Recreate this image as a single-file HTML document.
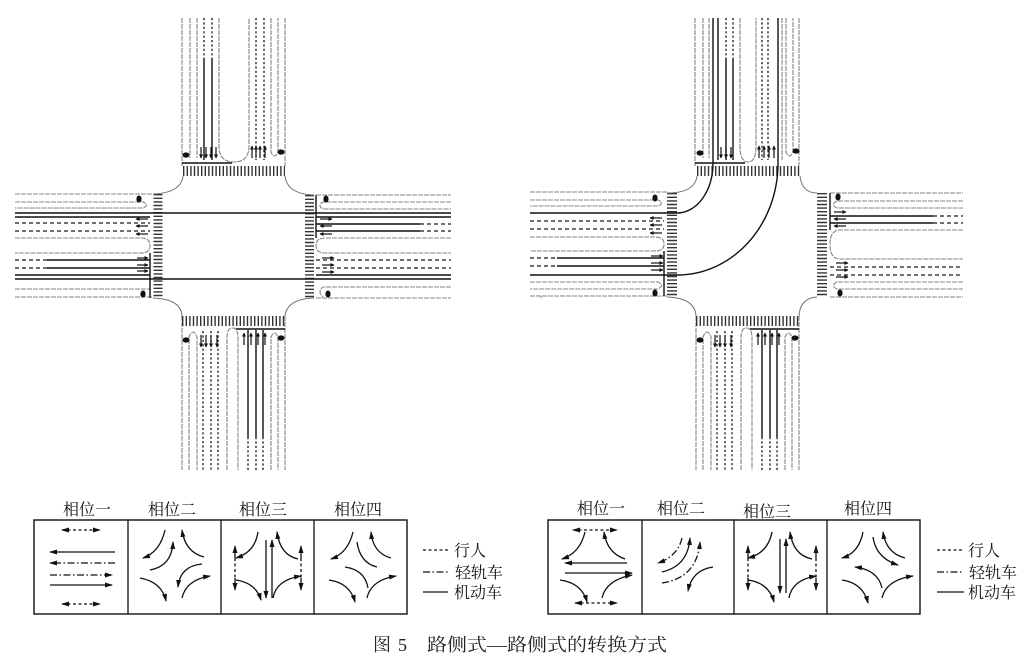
<!DOCTYPE html>
<html><head><meta charset="utf-8">
<style>
html,body{margin:0;padding:0;background:#fff;}
svg{display:block}
.g{stroke:#858585;stroke-width:1.1;fill:none;stroke-dasharray:5 1}
.e{stroke:#707070;stroke-width:1;fill:none}
.d{stroke:#1a1a1a;stroke-width:1.3;fill:none;stroke-dasharray:2.2 2.2}
.dl{stroke:#1a1a1a;stroke-width:1.3;fill:none;stroke-dasharray:4 3}
.s{stroke:#111;stroke-width:1.4;fill:none}
.cw{stroke:#333;fill:none;stroke-dasharray:1.4 2.2}
.ar{stroke:#111;stroke-width:1.2;fill:none}
.ph{stroke:#111;stroke-width:1.3;fill:none}
.pd{stroke-dasharray:3 2.5}
.pdd{stroke-dasharray:7 2.5 1.5 2.5}
.lbl{font-family:"Liberation Serif","Noto Serif CJK SC",serif;font-size:16px;fill:#111}
.cap{font-family:"Liberation Serif","Noto Serif CJK SC",serif;font-size:18px;fill:#222}
</style></head><body>
<svg width="1026" height="658" viewBox="0 0 1026 658" xmlns="http://www.w3.org/2000/svg">
<defs>
<marker id="ah" markerWidth="8" markerHeight="6" refX="7" refY="3" orient="auto-start-reverse" markerUnits="userSpaceOnUse"><path d="M0 0.5L8 3L0 5.5z" fill="#111"/></marker>
<marker id="sa" markerWidth="4" markerHeight="4" refX="3.5" refY="2" orient="auto" markerUnits="userSpaceOnUse"><path d="M0 0L4 2L0 4z" fill="#111"/></marker>
</defs>

<!-- ================= LEFT INTERSECTION ================= -->
<path class="g" d="M182 18V166 M190 18V158 M197 18V158 M219 18V146Q219 162 234 162Q249 162 249 146V18 M271 18V152Q274.5 160 278 152V18 M285 18V166"/>
<path class="d" d="M204 18V58 M212 18V58 M256 18V160 M264 18V160"/>
<path class="s" d="M204 58V160 M212 58V160 M182 163H232"/>
<path class="cw" stroke-width="10" d="M183 171H285"/>
<path class="g" d="M15 194H153 M15 202H143Q150 205 143 208H15 M15 238H141Q150 238 150 245.5Q150 253 141 253H15 M15 289H150 M15 297H153"/>
<path class="dl" d="M15 223H150 M15 231H150 M15 260H47 M15 268H47"/>
<path class="s" d="M15 217H150 M47 260H150 M47 268H150 M15 275H150 M150 253V298"/>
<path class="cw" stroke-width="9" d="M158 194V298"/>
<path class="g" d="M316 195H451 M451 202H323Q317 205.5 323 209H451 M451 238H325Q316 238 316 245.5Q316 253 325 253H451 M451 287H323Q317 292 323 297 M316 298H451"/>
<path class="s" d="M316 217H451 M316 224H420 M316 231H420 M316 275H451 M316 195V238"/>
<path class="dl" d="M420 224H451 M420 231H451 M316 260H451 M316 268H451"/>
<path class="cw" stroke-width="9" d="M309.5 195V298"/>
<path class="g" d="M182 316V470 M189 470V337Q193 327 197 337V470 M227 470V338Q227 328 232.5 328Q238 328 238 338V470 M271 470V337Q274.5 329 278 337V470 M285 316V470"/>
<path class="d" d="M203 331V470 M211 331V470 M218 331V470 M248 437V470 M256 437V470 M263 437V470"/>
<path class="s" d="M248 330V437 M256 330V437 M263 330V437 M236 329H285"/>
<path class="cw" stroke-width="10" d="M182 321H285"/>
<path class="e" d="M183 176Q181 193 153 194 M285 176Q287 194 314 195 M153 298Q181 299 182 316 M314 298Q287 299 285 316"/>
<path class="s" d="M15 213H451 M15 279H451"/>
<g fill="#111">
<ellipse cx="186" cy="155" rx="3.5" ry="2.6"/><ellipse cx="281" cy="152" rx="3.5" ry="2.6"/>
<ellipse cx="139" cy="199" rx="2.6" ry="3.5"/><ellipse cx="143" cy="294" rx="2.6" ry="3.5"/>
<ellipse cx="326" cy="199" rx="2.6" ry="3.5"/><ellipse cx="328" cy="294" rx="2.6" ry="3.5"/>
<ellipse cx="186" cy="340" rx="3.5" ry="2.6"/><ellipse cx="281" cy="338" rx="3.5" ry="2.6"/>
</g>
<g class="ar">
<path d="M201 147V158" marker-end="url(#sa)"/><path d="M206 147V158" marker-end="url(#sa)"/><path d="M211 147V158" marker-end="url(#sa)"/><path d="M216 147V158" marker-end="url(#sa)"/>
<path d="M252 158V146" marker-end="url(#sa)"/><path d="M256 158V146" marker-end="url(#sa)"/><path d="M260 158V146" marker-end="url(#sa)"/><path d="M265 158V146" marker-end="url(#sa)"/>
<path d="M148 219H136" marker-end="url(#sa)"/><path d="M148 226H136" marker-end="url(#sa)"/><path d="M148 234H136" marker-end="url(#sa)"/>
<path d="M137 258H148" marker-end="url(#sa)"/><path d="M137 265H148" marker-end="url(#sa)"/><path d="M137 271H148" marker-end="url(#sa)"/>
<path d="M320 219H332" marker-end="url(#sa)"/><path d="M332 226H320" marker-end="url(#sa)"/><path d="M332 234H320" marker-end="url(#sa)"/>
<path d="M322 258H334" marker-end="url(#sa)"/><path d="M322 265H334" marker-end="url(#sa)"/><path d="M322 272H334" marker-end="url(#sa)"/>
<path d="M201 335V347" marker-end="url(#sa)"/><path d="M206 335V347" marker-end="url(#sa)"/><path d="M211 335V347" marker-end="url(#sa)"/><path d="M217 335V347" marker-end="url(#sa)"/>
<path d="M244 345V333" marker-end="url(#sa)"/><path d="M251 345V333" marker-end="url(#sa)"/><path d="M258 345V333" marker-end="url(#sa)"/><path d="M265 345V333" marker-end="url(#sa)"/>
</g>

<!-- ================= RIGHT INTERSECTION ================= -->
<path class="g" d="M695 18V166 M703 18V158 M709 18V158 M740 18V146Q740 162 748 162Q756 162 756 146V18 M782 18V160 M786 18V152Q789.5 160 793 152V18 M799 18V166"/>
<path class="d" d="M726 18V58 M733 18V58 M762 18V160 M768 18V160"/>
<path class="s" d="M718 18V160 M726 58V160 M733 58V160 M695 163H745"/>
<path class="cw" stroke-width="10" d="M697 171H800"/>
<path class="g" d="M530 192H667 M530 200H658Q665 203 658 206H530 M530 237H655Q664 237 664 244Q664 251 655 251H530 M530 282H658Q665 285.5 658 289H530 M530 296H667"/>
<path class="dl" d="M530 221H664 M530 229H664 M530 258H557 M530 266H557"/>
<path class="s" d="M557 258H664 M557 266H664 M664 251V296"/>
<path class="cw" stroke-width="10" d="M672 193V297"/>
<path class="g" d="M830 193H963 M963 201H837Q830 204.5 837 208H963 M963 230H840Q830 230 830 244.5Q830 259 840 259H963 M963 282H837Q830 285.5 837 289H963 M830 297H963"/>
<path class="s" d="M830 216H933 M830 223H933 M830 193V230"/>
<path class="dl" d="M933 216H963 M933 223H963 M830 267H963 M830 275H963"/>
<path class="cw" stroke-width="10" d="M822 193V297"/>
<path class="g" d="M696 316V470 M703 470V337Q707 327 711 337V470 M741 470V338Q741 328 746.5 328Q752 328 752 338V470 M785 470V337Q788.5 329 792 337V470 M799 316V470"/>
<path class="d" d="M717 331V470 M725 331V470 M732 331V470 M762 437V470 M770 437V470 M777 437V470"/>
<path class="s" d="M762 330V437 M770 330V437 M777 330V437 M750 329H799"/>
<path class="cw" stroke-width="10" d="M696 321H799"/>
<path class="e" d="M697 176Q695 193 667 193 M800 176Q802 193 817 193 M667 297Q695 298 696 316 M817 297Q800 298 799 316"/>
<path class="s" d="M530 213H677C697 213 713 191 713 163V18"/>
<path class="s" d="M530 275H677C733 275 778 225 778 163V18"/>
<g fill="#111">
<ellipse cx="700" cy="153" rx="3.5" ry="2.6"/><ellipse cx="796" cy="151" rx="3.5" ry="2.6"/>
<ellipse cx="655" cy="198" rx="2.6" ry="3.5"/><ellipse cx="655" cy="293" rx="2.6" ry="3.5"/>
<ellipse cx="838" cy="197" rx="2.6" ry="3.5"/><ellipse cx="840" cy="293" rx="2.6" ry="3.5"/>
<ellipse cx="700" cy="340" rx="3.5" ry="2.6"/><ellipse cx="795" cy="338" rx="3.5" ry="2.6"/>
</g>
<g class="ar">
<path d="M721 147V158" marker-end="url(#sa)"/><path d="M726 147V158" marker-end="url(#sa)"/><path d="M731 147V158" marker-end="url(#sa)"/>
<path d="M759 158V146" marker-end="url(#sa)"/><path d="M764 158V146" marker-end="url(#sa)"/><path d="M769 158V146" marker-end="url(#sa)"/><path d="M774 158V146" marker-end="url(#sa)"/>
<path d="M662 218H650" marker-end="url(#sa)"/><path d="M662 225H650" marker-end="url(#sa)"/><path d="M662 233H650" marker-end="url(#sa)"/>
<path d="M651 256H663" marker-end="url(#sa)"/><path d="M651 263H663" marker-end="url(#sa)"/><path d="M651 270H663" marker-end="url(#sa)"/>
<path d="M834 212H846" marker-end="url(#sa)"/><path d="M846 219H834" marker-end="url(#sa)"/><path d="M846 226H834" marker-end="url(#sa)"/>
<path d="M836 263H848" marker-end="url(#sa)"/><path d="M836 270H848" marker-end="url(#sa)"/><path d="M836 277H848" marker-end="url(#sa)"/>
<path d="M715 335V347" marker-end="url(#sa)"/><path d="M720 335V347" marker-end="url(#sa)"/><path d="M725 335V347" marker-end="url(#sa)"/><path d="M731 335V347" marker-end="url(#sa)"/>
<path d="M758 345V333" marker-end="url(#sa)"/><path d="M765 345V333" marker-end="url(#sa)"/><path d="M772 345V333" marker-end="url(#sa)"/><path d="M779 345V333" marker-end="url(#sa)"/>
</g>
<circle cx="541" cy="297" r="0.8" fill="#888"/>

<!-- ================= PHASE BOXES LEFT ================= -->
<text class="lbl" x="87" y="515" text-anchor="middle">相位一</text>
<text class="lbl" x="172" y="515" text-anchor="middle">相位二</text>
<text class="lbl" x="263" y="515" text-anchor="middle">相位三</text>
<text class="lbl" x="358" y="515" text-anchor="middle">相位四</text>
<rect x="34" y="520" width="373" height="94" fill="none" stroke="#111" stroke-width="1.4"/>
<path stroke="#111" stroke-width="1.3" d="M128 520V614 M221 520V614 M314 520V614"/>
<path class="ph pd" d="M62 530H100" marker-start="url(#ah)" marker-end="url(#ah)"/>
<path class="ph" d="M115 552H50" marker-end="url(#ah)"/>
<path class="ph pdd" d="M115 563H50" marker-end="url(#ah)"/>
<path class="ph pdd" d="M50 575H112" marker-end="url(#ah)"/>
<path class="ph" d="M50 585H112" marker-end="url(#ah)"/>
<path class="ph pd" d="M62 604H100" marker-start="url(#ah)" marker-end="url(#ah)"/>
<g class="ph">
<path d="M165 530Q160 552 143 558" marker-end="url(#ah)"/>
<path d="M204 557Q185 552 182 530" marker-end="url(#ah)"/>
<path d="M150 570Q172 566 173 542" marker-end="url(#ah)"/>
<path d="M202 564Q180 566 178 587" marker-end="url(#ah)"/>
<path d="M140 578Q162 582 166 601" marker-end="url(#ah)"/>
<path d="M182 598Q186 580 210 576" marker-end="url(#ah)"/>
</g>
<g class="ph">
<path d="M258 532Q255 552 236 558" marker-end="url(#ah)"/>
<path d="M298 559Q280 555 277 532" marker-end="url(#ah)"/>
<path d="M266 540V598" marker-end="url(#ah)"/>
<path d="M272 598V540" marker-end="url(#ah)"/>
<path d="M236 580Q256 583 261 600" marker-end="url(#ah)"/>
<path d="M273 598Q276 580 301 576" marker-end="url(#ah)"/>
<path class="pd" d="M235 558V578 M301 558V578"/>
<path d="M235 558V546" marker-end="url(#ah)"/><path d="M235 578V590" marker-end="url(#ah)"/>
<path d="M301 558V546" marker-end="url(#ah)"/><path d="M301 578V590" marker-end="url(#ah)"/>
</g>
<g class="ph">
<path d="M353 532Q348 553 331 559" marker-end="url(#ah)"/>
<path d="M357 542Q360 563 377 567"/>
<path d="M391 558Q373 553 371 532" marker-end="url(#ah)"/>
<path d="M345 567Q365 570 368 588"/>
<path d="M329 580Q350 583 355 602" marker-end="url(#ah)"/>
<path d="M367 598Q371 580 396 576" marker-end="url(#ah)"/>
</g>
<path class="ph pd" d="M423 550H448"/>
<path class="ph pdd" d="M423 572H448"/>
<path class="ph" d="M423 592H448"/>
<text class="lbl" x="454" y="556">行人</text>
<text class="lbl" x="455" y="578">轻轨车</text>
<text class="lbl" x="454" y="598">机动车</text>

<!-- ================= PHASE BOXES RIGHT ================= -->
<text class="lbl" x="601" y="514" text-anchor="middle">相位一</text>
<text class="lbl" x="681" y="514" text-anchor="middle">相位二</text>
<text class="lbl" x="767" y="517" text-anchor="middle">相位三</text>
<text class="lbl" x="868" y="514" text-anchor="middle">相位四</text>
<rect x="548" y="520" width="372" height="94" fill="none" stroke="#111" stroke-width="1.4"/>
<path stroke="#111" stroke-width="1.3" d="M642 520V614 M734 520V614 M827 520V614"/>
<g class="ph">
<path class="pd" d="M573 530H617" marker-start="url(#ah)" marker-end="url(#ah)"/>
<path d="M585 532Q580 553 562 559" marker-end="url(#ah)"/>
<path d="M625 559Q607 553 604 532" marker-end="url(#ah)"/>
<path d="M627 563H565" marker-end="url(#ah)"/>
<path d="M565 573H632" marker-end="url(#ah)"/>
<path d="M560 580Q582 583 587 602" marker-end="url(#ah)"/>
<path d="M602 598Q606 580 632 575" marker-end="url(#ah)"/>
<path class="pd" d="M575 603H617" marker-start="url(#ah)" marker-end="url(#ah)"/>
</g>
<g class="ph">
<path class="pdd" d="M682 538Q678 556 658 563" marker-end="url(#ah)"/>
<path d="M662 572Q688 566 690 538" marker-end="url(#ah)"/>
<path class="pdd" d="M662 583Q697 578 700 542" marker-end="url(#ah)"/>
<path d="M713 567Q692 570 688 591" marker-end="url(#ah)"/>
</g>
<g class="ph">
<path d="M772 532Q768 553 748 558" marker-end="url(#ah)"/>
<path d="M812 559Q793 555 790 532" marker-end="url(#ah)"/>
<path d="M780 539V593" marker-end="url(#ah)"/>
<path d="M786 593V539" marker-end="url(#ah)"/>
<path d="M748 580Q769 583 774 602" marker-end="url(#ah)"/>
<path d="M789 598Q792 580 816 576" marker-end="url(#ah)"/>
<path class="pd" d="M748 558V578 M816 558V578"/>
<path d="M748 558V546" marker-end="url(#ah)"/><path d="M748 578V590" marker-end="url(#ah)"/>
<path d="M816 558V546" marker-end="url(#ah)"/><path d="M816 578V590" marker-end="url(#ah)"/>
</g>
<g class="ph">
<path d="M863 532Q859 553 842 558" marker-end="url(#ah)"/>
<path d="M873 537Q876 558 898 565" marker-end="url(#ah)"/>
<path d="M905 558Q886 553 883 532" marker-end="url(#ah)"/>
<path d="M882 588Q878 570 855 567" marker-end="url(#ah)"/>
<path d="M842 580Q863 583 868 603" marker-end="url(#ah)"/>
<path d="M882 598Q886 580 913 576" marker-end="url(#ah)"/>
</g>
<path class="ph pd" d="M937 550H964"/>
<path class="ph pdd" d="M937 572H964"/>
<path class="ph" d="M937 592H964"/>
<text class="lbl" x="968" y="556">行人</text>
<text class="lbl" x="969" y="578">轻轨车</text>
<text class="lbl" x="968" y="598">机动车</text>

<text class="cap" x="373" y="651">图</text>
<text class="cap" x="398" y="651">5</text>
<text class="cap" x="427" y="651" textLength="240" lengthAdjust="spacingAndGlyphs">路侧式—路侧式的转换方式</text>
</svg>
</body></html>
